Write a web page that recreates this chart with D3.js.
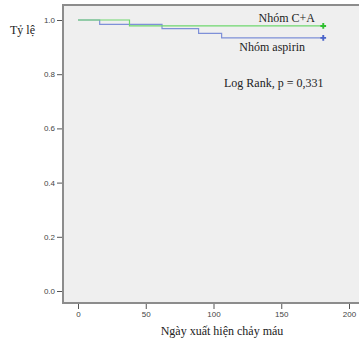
<!DOCTYPE html>
<html>
<head>
<meta charset="utf-8">
<script src="https://cdn.jsdelivr.net/npm/d3@7"></script>
<style>
body { margin: 0; background: #fff; }
</style>
</head>
<body>
<div id="chart"></div>
<script>
// survival steps (time, proportion)
var groupCA = [[0, 1], [38, 0.978], [181, 0.978]];
var groupAspirin = [[0, 1], [16, 0.984], [62, 0.968], [89, 0.951], [106, 0.934], [181, 0.934]];
var xTicks = [0, 50, 100, 150, 200];
var yTicks = [0, 0.2, 0.4, 0.6, 0.8, 1.0];
var labels = ["Nhóm C+A", "Nhóm aspirin"];

var WIDTH = 359, HEIGHT = 342;

var svg = d3.select("#chart").append("svg")
	.attr("width", WIDTH)
	.attr("height", HEIGHT);

var xScale = d3.scaleLinear().domain([0, 200]).range([78, 349]);
var yScale = d3.scaleLinear().domain([0, 1]).range([291, 20]);

// plot area
svg.append("rect")
	.attr("x", 63).attr("y", 5)
	.attr("width", 300).attr("height", 298)
	.attr("fill", "#efefef")
	.attr("stroke", "#8c8c8c")
	.attr("stroke-width", 2);

// axes
var yAxis = svg.append("g")
	.attr("transform", "translate(62,0)")
	.call(d3.axisLeft(yScale).tickValues(yTicks).tickFormat(d3.format(".1f")).tickSize(5).tickPadding(2));
yAxis.select(".domain").remove();
yAxis.selectAll("line").attr("stroke", "#555");
yAxis.selectAll("text").style("font", "8px 'Liberation Sans'").attr("fill", "#444");

var xAxis = svg.append("g")
	.attr("transform", "translate(0,304)")
	.call(d3.axisBottom(xScale).tickValues(xTicks).tickSize(5).tickPadding(2));
xAxis.select(".domain").remove();
xAxis.selectAll("line").attr("stroke", "#555");
xAxis.selectAll("text").style("font", "8px 'Liberation Sans'").attr("fill", "#444");

// axis titles
svg.append("text")
	.attr("x", 10).attr("y", 34)
	.style("font", "12px 'Liberation Serif'")
	.attr("fill", "#222")
	.text("Tỷ lệ");

svg.append("text")
	.attr("x", 222).attr("y", 335)
	.style("text-anchor", "middle")
	.style("font", "12px 'Liberation Serif'")
	.attr("fill", "#222")
	.text("Ngày xuất hiện chảy máu");

// step lines
var lineGen = d3.line()
	.x(function(d) { return xScale(d[0]); })
	.y(function(d) { return yScale(d[1]); })
	.curve(d3.curveStepAfter);

svg.append("path")
	.datum(groupAspirin)
	.attr("d", lineGen)
	.attr("fill", "none")
	.attr("stroke", "#7e90d8")
	.attr("stroke-width", 1.2);

svg.append("path")
	.datum(groupCA)
	.attr("d", lineGen)
	.attr("fill", "none")
	.attr("stroke", "#6fd86f")
	.attr("stroke-width", 1.2);

// censor marks at the end
var ends = [
	{d: groupCA[groupCA.length - 1], c: "#2fbf2f"},
	{d: groupAspirin[groupAspirin.length - 1], c: "#4a63c9"}
];
ends.forEach(function(e) {
	svg.append("path")
		.attr("d", d3.symbol().type(d3.symbolCross).size(18)())
		.attr("transform", "translate(" + xScale(e.d[0]) + "," + yScale(e.d[1]) + ")")
		.attr("fill", e.c);
});

// annotations
svg.append("text")
	.attr("x", 315).attr("y", 22)
	.style("text-anchor", "end")
	.style("font", "12px 'Liberation Serif'")
	.attr("fill", "#222")
	.text(labels[0]);

svg.append("text")
	.attr("x", 305).attr("y", 51)
	.style("text-anchor", "end")
	.style("font", "12px 'Liberation Serif'")
	.attr("fill", "#222")
	.text(labels[1]);

svg.append("text")
	.attr("x", 224).attr("y", 87)
	.style("font", "12px 'Liberation Serif'")
	.attr("fill", "#222")
	.text("Log Rank, p = 0,331");
</script>
</body>
</html>
